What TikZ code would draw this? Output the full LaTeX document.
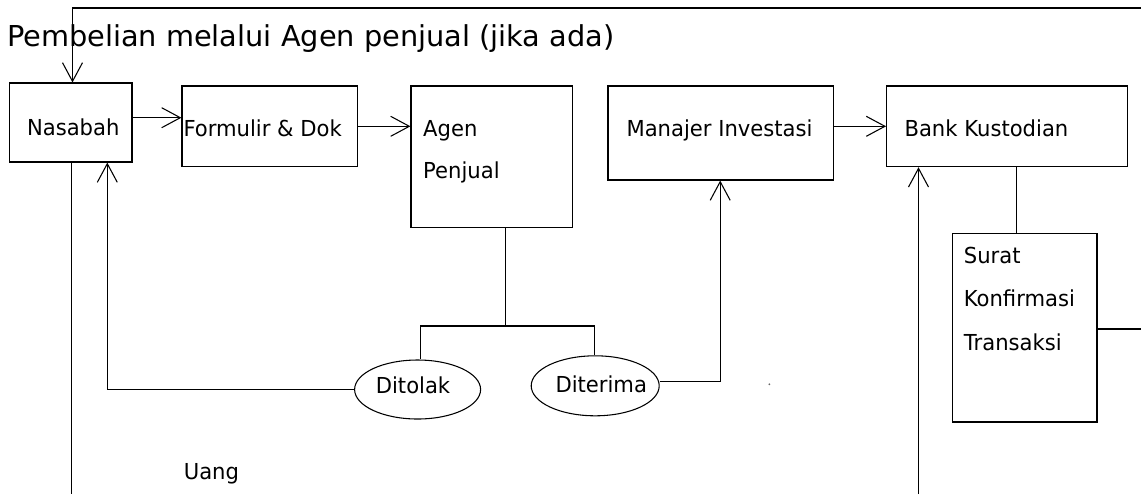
\documentclass[tikz,border=0pt]{standalone}
\usepackage{fontspec}
\setmainfont{DejaVu Sans}
\newfontfamily\bodyf{DejaVu Sans}[FakeStretch=0.96]
\usetikzlibrary{arrows.meta,shapes.geometric,fit,calc}
\begin{document}
\begin{tikzpicture}[x=0.75pt,y=-0.75pt, line width=0.8pt,
  box/.style={draw, rectangle, inner sep=0pt},
  ell/.style={draw, ellipse, inner sep=0pt},
  txt/.style={inner sep=0pt, anchor=base west, font=\bodyf\fontsize{16.5}{19}\selectfont},
  titlet/.style={inner sep=0pt, anchor=base west, font=\fontsize{21.6}{25}\selectfont},
  dotn/.style={circle, fill=black!60, inner sep=0pt, minimum size=1.5pt},
  arr/.style={-{Straight Barb[length=14pt,width=15pt]}}]
\useasboundingbox (0,0) rectangle (1141,494);
\fill[white] (0,0) rectangle (1141,494);

% boxes
\node[box, fit={(9.3,83) (132,162)}] (nasabah) {};
\node[box, fit={(182,86) (357.5,166.7)}] (formulir) {};
\node[box, fit={(411,86) (572.3,227.5)}] (agen) {};
\node[box, fit={(608,86) (833.3,180)}] (manajer) {};
\node[box, fit={(886.6,86) (1127.5,166.7)}] (bank) {};
\node[box, fit={(952.4,233.3) (1097,422)}] (surat) {};
\node[ell, minimum width=94.5pt, minimum height=44.25pt] (ditolak) at (417.6,389.5) {};
\node[ell, minimum width=96pt, minimum height=45pt] (diterima) at (595.2,385.8) {};

% texts
\node[titlet] (title) at (6.5,46.7) {Pembelian melalui Agen penjual (jika ada)};
\node[txt] (nasabahT) at (26.5,135.7) {Nasabah};
\node[txt] (formulirT) at (183,136.5) {Formulir \& Dok};
\node[txt] (agenT1) at (422.7,136) {Agen};
\node[txt] (agenT2) at (422.7,178.5) {Penjual};
\node[txt] (manajerT) at (626,136.5) {Manajer Investasi};
\node[txt] (bankT) at (904,136.5) {Bank Kustodian};
\node[txt] (suratT1) at (963.3,263) {Surat};
\node[txt] (suratT2) at (963.3,306.5) {Konfirmasi};
\node[txt] (suratT3) at (963.3,350) {Transaksi};
\node[txt] (ditolakT) at (375.3,393.3) {Ditolak};
\node[txt] (diterimaT) at (555,392.7) {Diterima};
\node[txt] (uang) at (183.3,479.3) {Uang};
\node[dotn] (dot) at (769.3,384.3) {};

% coordinates
\coordinate (topR) at (1141,8);
\coordinate (topL) at (72.5,8);
\coordinate (yA) at (0,117.7);
\coordinate (yB) at (0,126.3);
\coordinate (botL) at (71.7,494);
\coordinate (xRet) at (107.3,0);
\coordinate (xAg) at (505.6,0);
\coordinate (yJ) at (0,326);
\coordinate (xL) at (420.7,0);
\coordinate (xR) at (594.3,0);
\coordinate (xM) at (720.2,0);
\coordinate (yD) at (0,381.7);
\coordinate (botR) at (918.5,494);
\coordinate (xBk) at (1016.7,0);
\coordinate (rE) at (1141,329);

% connectors
\draw[arr] (topR) -- (topL) -- (topL |- nasabah.north);
\draw[arr] (nasabah.east |- yA) -- (formulir.west |- yA);
\draw[arr] (formulir.east |- yB) -- (agen.west |- yB);
\draw[arr] (manajer.east |- yB) -- (bank.west |- yB);
\draw (nasabah.south -| botL) -- (botL);
\draw[arr] (ditolak.west) -| (nasabah.south -| xRet);
\draw (agen.south -| xAg) -- (xAg |- yJ);
\draw (xL |- ditolak.north) |- (xR |- yJ) -- (xR |- diterima.north);
\draw[arr] (diterima.east |- yD) -| (manajer.south -| xM);
\draw[arr] (botR) -- (botR |- bank.south);
\draw (bank.south -| xBk) -- (xBk |- surat.north);
\draw (surat.east |- rE) -- (rE);
\end{tikzpicture}
\end{document}
